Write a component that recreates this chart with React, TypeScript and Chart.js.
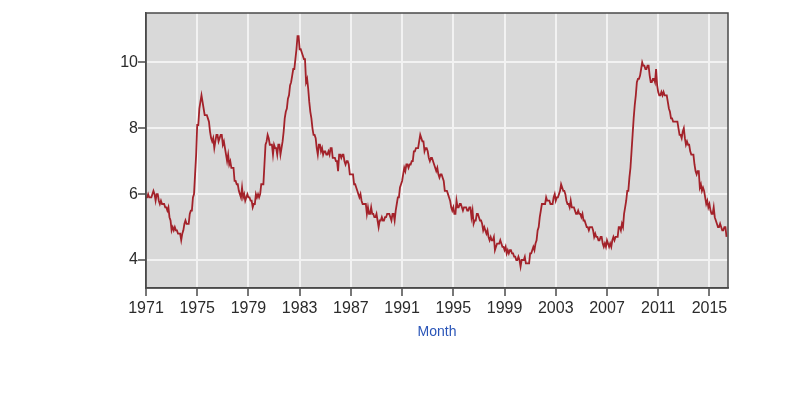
import React, { useEffect, useRef } from "react";
import { Chart, registerables } from "chart.js";

Chart.register(...registerables);

// Monthly unemployment rate (%), January 1971 onward
const START_YEAR = 1971;
const rate1970s = [
  5.9, 5.9, 6.0, 5.9, 5.9, 5.9, 6.0, 6.1, 6.0, 5.8, 6.0, 6.0,
  5.8, 5.7, 5.8, 5.7, 5.7, 5.7, 5.6, 5.6, 5.5, 5.6, 5.3, 5.2,
  4.9, 5.0, 4.9, 5.0, 4.9, 4.9, 4.8, 4.8, 4.8, 4.6, 4.8, 4.9,
  5.1, 5.2, 5.1, 5.1, 5.1, 5.4, 5.5, 5.5, 5.9, 6.0, 6.6, 7.2,
  8.1, 8.1, 8.6, 8.8, 9.0, 8.8, 8.6, 8.4, 8.4, 8.4, 8.3, 8.2,
  7.9, 7.7, 7.6, 7.7, 7.4, 7.6, 7.8, 7.8, 7.6, 7.7, 7.8, 7.8,
  7.5, 7.6, 7.4, 7.2, 7.0, 7.2, 6.9, 7.0, 6.8, 6.8, 6.8, 6.4,
  6.4, 6.3, 6.3, 6.1, 6.0, 5.9, 6.2, 5.9, 6.0, 5.8, 5.9, 6.0,
  5.9, 5.9, 5.8, 5.8, 5.6, 5.7, 5.7, 6.0, 5.9, 6.0, 5.9, 6.0,
];
const rate1980s = [
  6.3, 6.3, 6.3, 6.9, 7.5, 7.6, 7.8, 7.7, 7.5, 7.5, 7.5, 7.2,
  7.5, 7.4, 7.4, 7.2, 7.5, 7.5, 7.2, 7.4, 7.6, 7.9, 8.3, 8.5,
  8.6, 8.9, 9.0, 9.3, 9.4, 9.6, 9.8, 9.8, 10.1, 10.4, 10.8, 10.8,
  10.4, 10.4, 10.3, 10.2, 10.1, 10.1, 9.4, 9.5, 9.2, 8.8, 8.5, 8.3,
  8.0, 7.8, 7.8, 7.7, 7.4, 7.2, 7.5, 7.5, 7.3, 7.4, 7.2, 7.3,
  7.3, 7.2, 7.2, 7.3, 7.2, 7.4, 7.4, 7.1, 7.1, 7.1, 7.0, 7.0,
  6.7, 7.2, 7.2, 7.1, 7.2, 7.2, 7.0, 6.9, 7.0, 7.0, 6.9, 6.6,
  6.6, 6.6, 6.6, 6.3, 6.3, 6.2, 6.1, 6.0, 5.9, 6.0, 5.8, 5.7,
  5.7, 5.7, 5.7, 5.4, 5.6, 5.4, 5.4, 5.6, 5.4, 5.4, 5.3, 5.3,
  5.4, 5.2, 5.0, 5.2, 5.2, 5.3, 5.2, 5.2, 5.3, 5.3, 5.4, 5.4,
];
const rate1990s = [
  5.4, 5.3, 5.2, 5.4, 5.4, 5.2, 5.5, 5.7, 5.9, 5.9, 6.2, 6.3,
  6.4, 6.6, 6.8, 6.7, 6.9, 6.9, 6.8, 6.9, 6.9, 7.0, 7.0, 7.3,
  7.3, 7.4, 7.4, 7.4, 7.6, 7.8, 7.7, 7.6, 7.6, 7.3, 7.4, 7.4,
  7.3, 7.1, 7.0, 7.1, 7.1, 7.0, 6.9, 6.8, 6.7, 6.8, 6.6, 6.5,
  6.6, 6.6, 6.5, 6.4, 6.1, 6.1, 6.1, 6.0, 5.9, 5.8, 5.6, 5.5,
  5.6, 5.4, 5.4, 5.8, 5.6, 5.6, 5.7, 5.7, 5.6, 5.5, 5.6, 5.6,
  5.6, 5.5, 5.5, 5.6, 5.6, 5.3, 5.5, 5.1, 5.2, 5.2, 5.4, 5.4,
  5.3, 5.2, 5.2, 5.1, 4.9, 5.0, 4.9, 4.8, 4.9, 4.7, 4.6, 4.7,
  4.6, 4.6, 4.7, 4.3, 4.4, 4.5, 4.5, 4.5, 4.6, 4.5, 4.4, 4.4,
  4.3, 4.4, 4.2, 4.3, 4.2, 4.3, 4.3, 4.2, 4.2, 4.1, 4.1, 4.0,
];
const rate2000s = [
  4.0, 4.1, 4.0, 3.8, 4.0, 4.0, 4.0, 4.1, 3.9, 3.9, 3.9, 3.9,
  4.2, 4.2, 4.3, 4.4, 4.3, 4.5, 4.6, 4.9, 5.0, 5.3, 5.5, 5.7,
  5.7, 5.7, 5.7, 5.9, 5.8, 5.8, 5.8, 5.7, 5.7, 5.7, 5.9, 6.0,
  5.8, 5.9, 5.9, 6.0, 6.1, 6.3, 6.2, 6.1, 6.1, 6.0, 5.8, 5.7,
  5.7, 5.6, 5.8, 5.6, 5.6, 5.6, 5.5, 5.4, 5.4, 5.5, 5.4, 5.4,
  5.3, 5.4, 5.2, 5.2, 5.1, 5.0, 5.0, 4.9, 5.0, 5.0, 5.0, 4.9,
  4.7, 4.8, 4.7, 4.7, 4.6, 4.6, 4.7, 4.7, 4.5, 4.4, 4.5, 4.4,
  4.6, 4.5, 4.4, 4.5, 4.4, 4.6, 4.7, 4.6, 4.7, 4.7, 4.7, 5.0,
  5.0, 4.9, 5.1, 5.0, 5.4, 5.6, 5.8, 6.1, 6.1, 6.5, 6.8, 7.3,
  7.8, 8.3, 8.7, 9.0, 9.4, 9.5, 9.5, 9.6, 9.8, 10.0, 9.9, 9.9,
];
const rate2010s = [
  9.8, 9.8, 9.9, 9.9, 9.6, 9.4, 9.4, 9.5, 9.5, 9.4, 9.8, 9.3,
  9.1, 9.0, 9.0, 9.1, 9.0, 9.1, 9.0, 9.0, 9.0, 8.8, 8.6, 8.5,
  8.3, 8.3, 8.2, 8.2, 8.2, 8.2, 8.2, 8.0, 7.8, 7.8, 7.7, 7.9,
  8.0, 7.7, 7.5, 7.6, 7.5, 7.5, 7.3, 7.2, 7.2, 7.2, 6.9, 6.7,
  6.6, 6.7, 6.7, 6.2, 6.3, 6.1, 6.2, 6.1, 5.9, 5.7, 5.8, 5.6,
  5.7, 5.5, 5.4, 5.4, 5.6, 5.3, 5.2, 5.1, 5.0, 5.0, 5.1, 5.0,
  4.9, 4.9, 5.0, 5.0, 4.7,
];

const xTickYears = [1971, 1975, 1979, 1983, 1987, 1991, 1995, 1999, 2003, 2007, 2011, 2015];
const yTickValues = [4, 6, 8, 10];
const axisTitle = "Month";

const allRates = [...rate1970s, ...rate1980s, ...rate1990s, ...rate2000s, ...rate2010s];

const plotBackground = {
  id: "plotBackground",
  beforeDraw(chart: any) {
    const { ctx, chartArea } = chart;
    ctx.save();
    ctx.fillStyle = "#d9d9d9";
    ctx.fillRect(chartArea.left, chartArea.top, chartArea.right - chartArea.left, chartArea.bottom - chartArea.top);
    ctx.restore();
  },
  afterDraw(chart: any) {
    const { ctx, chartArea } = chart;
    ctx.save();
    ctx.strokeStyle = "#4a4a4a";
    ctx.lineWidth = 1.5;
    ctx.strokeRect(chartArea.left, chartArea.top, chartArea.right - chartArea.left, chartArea.bottom - chartArea.top);
    ctx.restore();
  },
};

export default function App() {
  const ref = useRef<HTMLCanvasElement>(null);

  useEffect(() => {
    if (!ref.current) return;
    const data = allRates.map((v, i) => ({ x: START_YEAR + i / 12, y: v }));
    const chart = new Chart(ref.current, {
      type: "line",
      data: {
        datasets: [
          {
            data,
            borderColor: "#a3222a",
            borderWidth: 1.8,
            pointRadius: 0,
            tension: 0,
            fill: false,
          },
        ],
      },
      options: {
        animation: false,
        responsive: false,
        layout: { padding: { left: 0, top: 13, right: 72, bottom: 0 } },
        plugins: {
          legend: { display: false },
          tooltip: { enabled: false },
        },
        scales: {
          x: {
            type: "linear",
            min: 1971,
            max: 2016.45,
            afterBuildTicks: (s: any) => {
              s.ticks = xTickYears.map((v) => ({ value: v }));
            },
            afterFit: (s: any) => {
              s.height = 111;
            },
            ticks: {
              autoSkip: false,
              maxRotation: 0,
              padding: 3,
              color: "#2b2b2b",
              font: { family: "'Liberation Sans', Arial, sans-serif", size: 16 },
              callback: (v: any) => String(v),
            },
            grid: {
              color: "#f2f2f2",
              lineWidth: 2,
              tickColor: "#4a4a4a",
              tickWidth: 1.5,
              tickLength: 8,
            },
            border: { display: true, color: "#4a4a4a", width: 1.5 },
            title: {
              display: true,
              text: axisTitle,
              color: "#2a55b8",
              font: { family: "'Liberation Sans', Arial, sans-serif", size: 14 },
              padding: { top: 0, bottom: 58 },
            },
          },
          y: {
            type: "linear",
            min: 3.15,
            max: 11.5,
            afterBuildTicks: (s: any) => {
              s.ticks = yTickValues.map((v) => ({ value: v }));
            },
            afterFit: (s: any) => {
              s.width = 146;
            },
            ticks: {
              padding: 0,
              color: "#2b2b2b",
              font: { family: "'Liberation Sans', Arial, sans-serif", size: 16 },
              callback: (v: any) => String(v),
            },
            grid: {
              color: "#f2f2f2",
              lineWidth: 2,
              tickColor: "#4a4a4a",
              tickWidth: 1.5,
              tickLength: 8,
            },
            border: { display: true, color: "#4a4a4a", width: 1.5 },
          },
        },
      },
      plugins: [plotBackground],
    });
    return () => chart.destroy();
  }, []);

  return (
    <div style={{ position: "absolute", left: 0, top: 0, width: 800, height: 399, background: "#fff" }}>
      <canvas ref={ref} width={800} height={399} style={{ display: "block" }} />
    </div>
  );
}
